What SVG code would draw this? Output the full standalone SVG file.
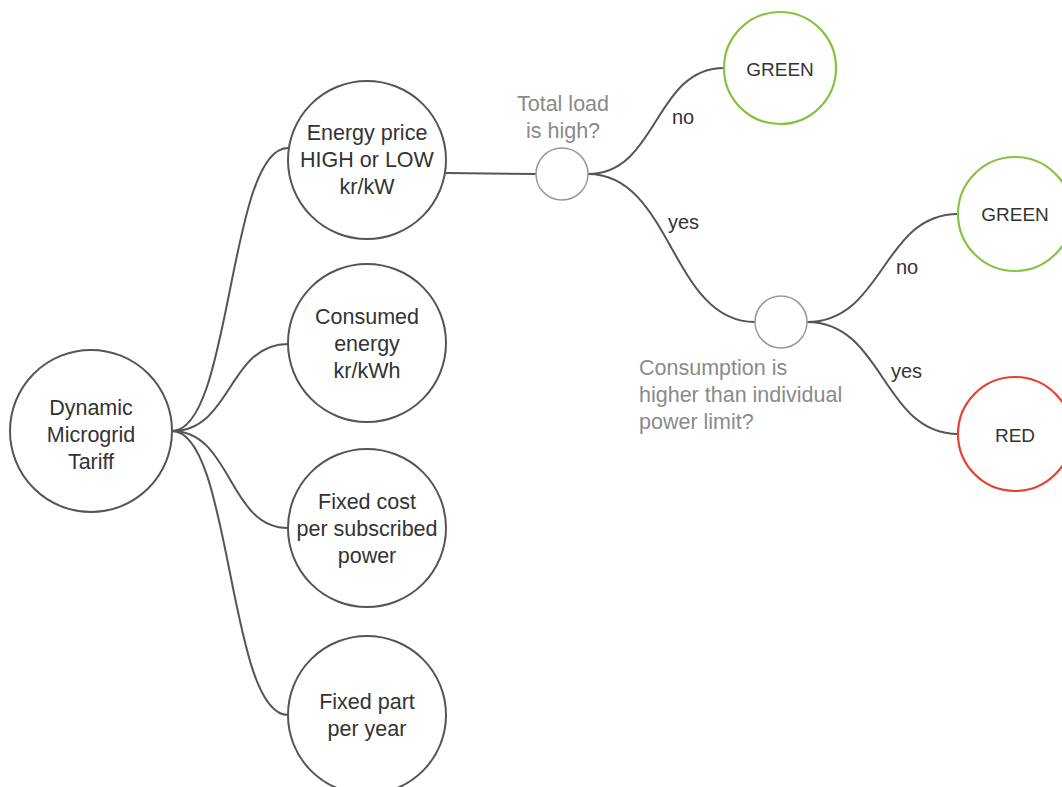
<svg xmlns="http://www.w3.org/2000/svg" width="1062" height="787" viewBox="0 0 1062 787">
<style>
.n{fill:#fff;stroke:#555;stroke-width:2}
.q{fill:#fff;stroke:#999;stroke-width:1.5}
.g{fill:#fff;stroke:#86c440;stroke-width:2.2}
.r{fill:#fff;stroke:#e8402f;stroke-width:2.2}
.c{fill:none;stroke:#555;stroke-width:2}
text{font-family:"Liberation Sans",Arial,sans-serif;fill:#333;font-size:21.5px}
.t{text-anchor:middle}
.gl{fill:#8a8a8a}
.s{font-size:19px}
.l{font-size:20px}
</style>
<rect width="1062" height="787" fill="#fff"/>
<g id="connectors">
<path class="c" d="M172,431 C232,431 228,148 288,148"/>
<path class="c" d="M172,431 C232,431 228,344 288,344"/>
<path class="c" d="M172,431 C232,431 228,528 288,528"/>
<path class="c" d="M172,431 C232,431 228,715 288,715"/>
<path class="c" d="M446,173 L536,174"/>
<path class="c" d="M588,174 C658,174 654,68 724,68"/>
<path class="c" d="M588,174 C672,174 671,322 755,322"/>
<path class="c" d="M807,322 C884,322 882,214 958,214"/>
<path class="c" d="M807,322 C884,322 882,434 958,434"/>
<text class="l" x="672" y="124">no</text>
<text class="l" x="668" y="229">yes</text>
<text class="l" x="896" y="274">no</text>
<text class="l" x="891" y="378">yes</text>
</g>
<g id="root">
<circle class="n" cx="91" cy="431" r="81"/>
<text class="t" x="91" y="415">Dynamic</text>
<text class="t" x="91" y="442">Microgrid</text>
<text class="t" x="91" y="469">Tariff</text>
</g>
<g id="energy-price">
<circle class="n" cx="367" cy="160" r="79"/>
<text class="t" x="367" y="140">Energy price</text>
<text class="t" x="367" y="167">HIGH or LOW</text>
<text class="t" x="367" y="194">kr/kW</text>
</g>
<g id="consumed-energy">
<circle class="n" cx="367" cy="343" r="79"/>
<text class="t" x="367" y="324">Consumed</text>
<text class="t" x="367" y="351">energy</text>
<text class="t" x="367" y="378">kr/kWh</text>
</g>
<g id="fixed-cost">
<circle class="n" cx="367" cy="528" r="79"/>
<text class="t" x="367" y="509">Fixed cost</text>
<text class="t" x="367" y="536">per subscribed</text>
<text class="t" x="367" y="563">power</text>
</g>
<g id="fixed-part">
<circle class="n" cx="367" cy="715" r="79"/>
<text class="t" x="367" y="709">Fixed part</text>
<text class="t" x="367" y="736">per year</text>
</g>
<g id="q-total-load">
<circle class="q" cx="562" cy="174" r="26"/>
<text class="t gl" x="563" y="111">Total load</text>
<text class="t gl" x="563" y="138">is high?</text>
</g>
<g id="green-1">
<circle class="g" cx="780" cy="68" r="56"/>
<text class="t s" x="780" y="76">GREEN</text>
</g>
<g id="q-consumption">
<circle class="q" cx="781" cy="322" r="26"/>
<text class="gl" x="639" y="375">Consumption is</text>
<text class="gl" x="639" y="402">higher than individual</text>
<text class="gl" x="639" y="429">power limit?</text>
</g>
<g id="green-2">
<circle class="g" cx="1015" cy="214" r="57"/>
<text class="t s" x="1015" y="221">GREEN</text>
</g>
<g id="red">
<circle class="r" cx="1015" cy="434" r="57"/>
<text class="t s" x="1015" y="442">RED</text>
</g>
</svg>
